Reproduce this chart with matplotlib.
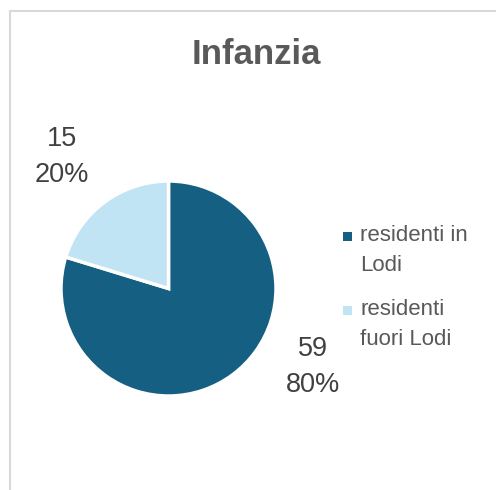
import matplotlib
matplotlib.use("Agg")
import matplotlib.pyplot as plt
from matplotlib.patches import Rectangle
from matplotlib.lines import Line2D

plt.rcParams["font.family"] = ["Liberation Sans", "DejaVu Sans"]

title = "Infanzia"
categories = ["residenti in\nLodi", "residenti\nfuori Lodi"]
values = [59, 15]
colors = ["#156082", "#C1E4F5"]

W, H = 496, 490
fig = plt.figure(figsize=(W / 100, H / 100), dpi=100)

# chart frame (only left and top edges are visible in the crop)
fig.add_artist(Line2D([10 / W, 10 / W], [0, 1 - 11 / H], color="#d9d9d9", lw=1.5))
fig.add_artist(Line2D([10 / W, 1], [1 - 11 / H, 1 - 11 / H], color="#d9d9d9", lw=1.5))

fig.text(256 / W, 1 - 55 / H, title, ha="center", va="center",
         fontsize=25, fontweight="bold", color="#595959")

# pie, center (168.5, 288.5) px, radius 107.5 px
cx, cy, r = 168.5, 288.5, 107.5
ax = fig.add_axes([(cx - r) / W, (H - cy - r) / H, 2 * r / W, 2 * r / H])
ax.pie(values, colors=colors, startangle=90, counterclock=False,
       wedgeprops=dict(edgecolor="white", linewidth=2.5))
ax.set_xlim(-1, 1)
ax.set_ylim(-1, 1)
ax.set_aspect("auto")

# data labels (pixel centres of the two-line label blocks)
label_pos = [(313, 367), (62, 157)]
total = sum(values)
for v, (lx, ly) in zip(values, label_pos):
    fig.text(lx / W, 1 - ly / H, f"{v}\n{round(100 * v / total)}%",
             ha="center", va="center", fontsize=19.5, color="#404040",
             linespacing=1.5)

# legend drawn by hand: square aligned with first text line
legend_y = [237, 311]
for lab, col, y in zip(categories, colors, legend_y):
    fig.add_artist(Rectangle((343 / W, 1 - (y + 4.5) / H), 9 / W, 9 / H,
                             facecolor=col, edgecolor="none",
                             transform=fig.transFigure))
    fig.text(360 / W, 1 - (y - 12) / H, lab, ha="left", va="top",
             fontsize=16, color="#595959", linespacing=1.55)

fig.savefig("out.png", dpi=100)
